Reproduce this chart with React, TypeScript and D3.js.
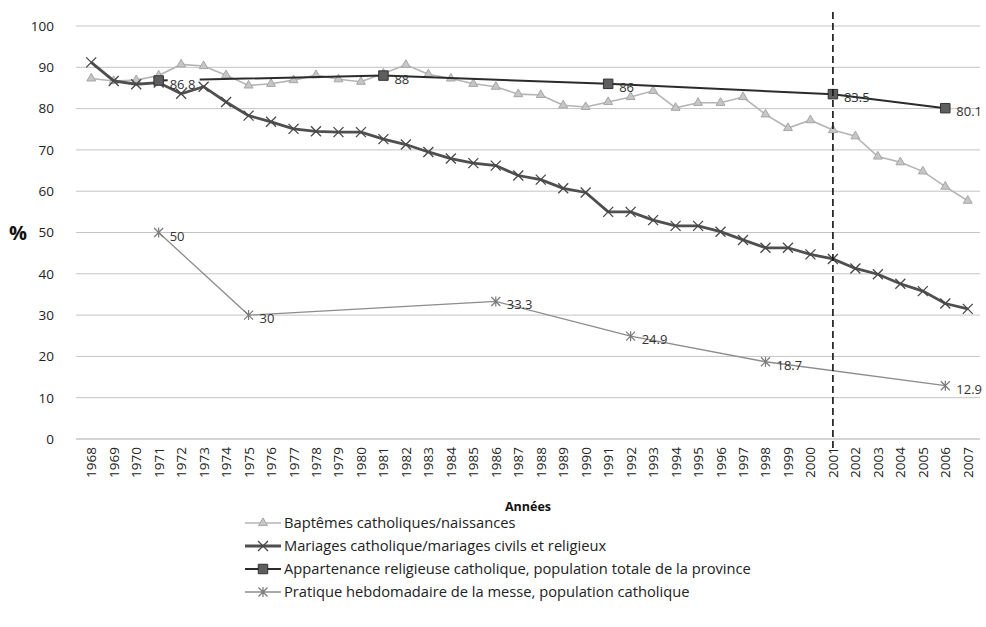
import { useEffect, useRef } from "react";
import * as d3 from "d3";

const W = 986;
const H = 627;
const FONT = "'Open Sans', 'Noto Sans', sans-serif";

const YEARS = [
  "1968", "1969", "1970", "1971", "1972", "1973", "1974", "1975", "1976", "1977",
  "1978", "1979", "1980", "1981", "1982", "1983", "1984", "1985", "1986", "1987",
  "1988", "1989", "1990", "1991", "1992", "1993", "1994", "1995", "1996", "1997",
  "1998", "1999", "2000", "2001", "2002", "2003", "2004", "2005", "2006", "2007",
];
const Y_TICKS = [0, 10, 20, 30, 40, 50, 60, 70, 80, 90, 100];

// Baptêmes catholiques/naissances (one value per year)
const BAPTEMES = [
  87.3, 86.7, 86.9, 88.0, 90.7, 90.3, 88.1, 85.6, 86.0, 86.9,
  88.1, 87.1, 86.5, 88.5, 90.6, 88.3, 87.3, 86.0, 85.3, 83.5,
  83.3, 80.8, 80.4, 81.6, 82.8, 84.3, 80.2, 81.4, 81.4, 82.8,
  78.6, 75.3, 77.2, 74.8, 73.3, 68.4, 67.0, 64.8, 61.1, 57.7,
];

// Mariages catholique/mariages civils et religieux
const MARIAGES = [
  91.2, 86.7, 85.9, 86.3, 83.6, 85.3, 81.6, 78.3, 76.8, 75.1,
  74.5, 74.3, 74.3, 72.6, 71.3, 69.5, 67.9, 66.8, 66.2, 63.8,
  62.8, 60.7, 59.7, 55.0, 55.0, 53.0, 51.6, 51.6, 50.2, 48.2,
  46.3, 46.3, 44.7, 43.6, 41.3, 39.9, 37.6, 35.8, 32.8, 31.5,
];

// Appartenance religieuse catholique (census years)
const APPART_YEARS = ["1971", "1981", "1991", "2001", "2006"];
const APPART = [86.8, 88, 86, 83.5, 80.1];

// Pratique hebdomadaire de la messe
const PRATIQUE_YEARS = ["1971", "1975", "1986", "1992", "1998", "2006"];
const PRATIQUE = [50, 30, 33.3, 24.9, 18.7, 12.9];

const MARK_YEAR = "2001";

const LEGEND = [
  "Baptêmes catholiques/naissances",
  "Mariages catholique/mariages civils et religieux",
  "Appartenance religieuse catholique, population totale de la province",
  "Pratique hebdomadaire de la messe, population catholique",
];

type Pt = { year: string; v: number };

export default function App() {
  const svgRef = useRef<SVGSVGElement>(null);

  useEffect(() => {
    if (!svgRef.current) return;
    const svg = d3.select(svgRef.current);
    svg.selectAll("*").remove();

    const x = d3.scalePoint<string>().domain(YEARS).range([80, 979]).padding(0.5);
    const y = d3.scaleLinear().domain([0, 100]).range([439, 26]);

    // grid
    svg.append("g")
      .selectAll("line")
      .data(Y_TICKS)
      .join("line")
      .attr("x1", 76)
      .attr("x2", 980)
      .attr("y1", (d) => y(d))
      .attr("y2", (d) => y(d))
      .attr("stroke", (d) => (d === 0 ? "#a8a8a8" : "#c4c4c4"))
      .attr("stroke-width", 1);

    // y axis labels
    svg.append("g")
      .attr("transform", "translate(60,0)")
      .call(d3.axisLeft(y).tickValues(Y_TICKS).tickSize(0).tickPadding(6))
      .call((ax) => ax.select(".domain").remove())
      .call((ax) =>
        ax.selectAll("text").attr("fill", "#222").attr("font-size", 13.5).attr("font-family", FONT),
      );

    svg.append("text")
      .attr("x", 18)
      .attr("y", 240)
      .attr("text-anchor", "middle")
      .attr("font-family", FONT)
      .attr("font-weight", "bold")
      .attr("font-size", 20)
      .attr("fill", "#111")
      .text("%");

    // x axis labels
    svg.append("g")
      .selectAll("text")
      .data(YEARS)
      .join("text")
      .attr("transform", (d) => `translate(${(x(d) ?? 0) + 5},447) rotate(-90)`)
      .attr("text-anchor", "end")
      .attr("font-family", FONT)
      .attr("font-size", 13.5)
      .attr("fill", "#222")
      .text((d) => d);

    svg.append("text")
      .attr("x", 528)
      .attr("y", 511)
      .attr("text-anchor", "middle")
      .attr("font-family", FONT)
      .attr("font-weight", "bold")
      .attr("font-size", 12.5)
      .attr("fill", "#111")
      .text("Années");

    const line = d3
      .line<Pt>()
      .x((d) => x(d.year) ?? 0)
      .y((d) => y(d.v));

    const bapt: Pt[] = YEARS.map((year, i) => ({ year, v: BAPTEMES[i] }));
    const mar: Pt[] = YEARS.map((year, i) => ({ year, v: MARIAGES[i] }));
    const app: Pt[] = APPART_YEARS.map((year, i) => ({ year, v: APPART[i] }));
    const pra: Pt[] = PRATIQUE_YEARS.map((year, i) => ({ year, v: PRATIQUE[i] }));

    const tri = d3.symbol().type(d3.symbolTriangle).size(34)();
    const sq = d3.symbol().type(d3.symbolSquare).size(90)();
    const cross = "M-5,-5L5,5M-5,5L5,-5";
    const star = "M-4.5,-4.5L4.5,4.5M-4.5,4.5L4.5,-4.5M0,-5L0,5";

    // Pratique
    svg.append("path").datum(pra).attr("d", line).attr("fill", "none")
      .attr("stroke", "#8c8c8c").attr("stroke-width", 1.3);
    svg.append("g").selectAll("path").data(pra).join("path")
      .attr("transform", (d) => `translate(${x(d.year)},${y(d.v)})`)
      .attr("d", star).attr("stroke", "#7a7a7a").attr("stroke-width", 1.2).attr("fill", "none");

    // Baptêmes
    svg.append("path").datum(bapt).attr("d", line).attr("fill", "none")
      .attr("stroke", "#b4b4b4").attr("stroke-width", 1.6);
    svg.append("g").selectAll("path").data(bapt).join("path")
      .attr("transform", (d) => `translate(${x(d.year)},${y(d.v)})`)
      .attr("d", tri).attr("fill", "#c6c6c6").attr("stroke", "#a6a6a6").attr("stroke-width", 1);

    // Appartenance line
    svg.append("path").datum(app).attr("d", line).attr("fill", "none")
      .attr("stroke", "#2b2b2b").attr("stroke-width", 2);

    // white box behind the first Appartenance label
    const first = app[0];
    svg.append("rect")
      .attr("x", (x(first.year) ?? 0) + 9)
      .attr("y", y(first.v) - 5)
      .attr("width", 32)
      .attr("height", 15)
      .attr("fill", "#fff");

    // Mariages
    svg.append("path").datum(mar).attr("d", line).attr("fill", "none")
      .attr("stroke", "#4f4f4f").attr("stroke-width", 2.8);
    svg.append("g").selectAll("path").data(mar).join("path")
      .attr("transform", (d) => `translate(${x(d.year)},${y(d.v)})`)
      .attr("d", cross).attr("stroke", "#484848").attr("stroke-width", 1.3).attr("fill", "none");

    // Appartenance markers
    svg.append("g").selectAll("path").data(app).join("path")
      .attr("transform", (d) => `translate(${x(d.year)},${y(d.v)})`)
      .attr("d", sq).attr("fill", "#5e5e5e").attr("stroke", "#333").attr("stroke-width", 1);

    // data labels
    svg.append("g").selectAll("text").data([...app, ...pra]).join("text")
      .attr("x", (d) => (x(d.year) ?? 0) + 11)
      .attr("y", (d) => y(d.v) + 8)
      .attr("font-family", FONT)
      .attr("font-size", 13)
      .attr("fill", "#333")
      .text((d) => String(d.v));

    // dashed marker line at 2001
    const mx = x(MARK_YEAR) ?? 0;
    svg.append("line")
      .attr("x1", mx).attr("x2", mx)
      .attr("y1", 12).attr("y2", 452)
      .attr("stroke", "#111").attr("stroke-width", 1.6)
      .attr("stroke-dasharray", "7,4");

    // legend
    const lg = svg.append("g");
    const rowY = [523, 546, 569, 592];
    const lx1 = 245;
    const lx2 = 281;
    const lmid = (lx1 + lx2) / 2;
    const styles = [
      { stroke: "#b4b4b4", w: 1.6 },
      { stroke: "#4f4f4f", w: 2.8 },
      { stroke: "#2b2b2b", w: 2 },
      { stroke: "#8c8c8c", w: 1.3 },
    ];
    LEGEND.forEach((label, i) => {
      const cy = rowY[i];
      lg.append("line").attr("x1", lx1).attr("x2", lx2).attr("y1", cy).attr("y2", cy)
        .attr("stroke", styles[i].stroke).attr("stroke-width", styles[i].w);
      const m = lg.append("path").attr("transform", `translate(${lmid},${cy})`);
      if (i === 0) m.attr("d", tri).attr("fill", "#c6c6c6").attr("stroke", "#a6a6a6");
      if (i === 1) m.attr("d", cross).attr("stroke", "#484848").attr("stroke-width", 1.3).attr("fill", "none");
      if (i === 2) m.attr("d", sq).attr("fill", "#5e5e5e").attr("stroke", "#333");
      if (i === 3) m.attr("d", star).attr("stroke", "#7a7a7a").attr("stroke-width", 1.2).attr("fill", "none");
      lg.append("text")
        .attr("x", lx2 + 3)
        .attr("y", cy + 5)
        .attr("font-family", FONT)
        .attr("font-size", 14.7)
        .attr("fill", "#222")
        .text(label);
    });
  }, []);

  return (
    <svg
      ref={svgRef}
      width={W}
      height={H}
      style={{ position: "absolute", left: 0, top: 0, background: "#fff" }}
    />
  );
}
